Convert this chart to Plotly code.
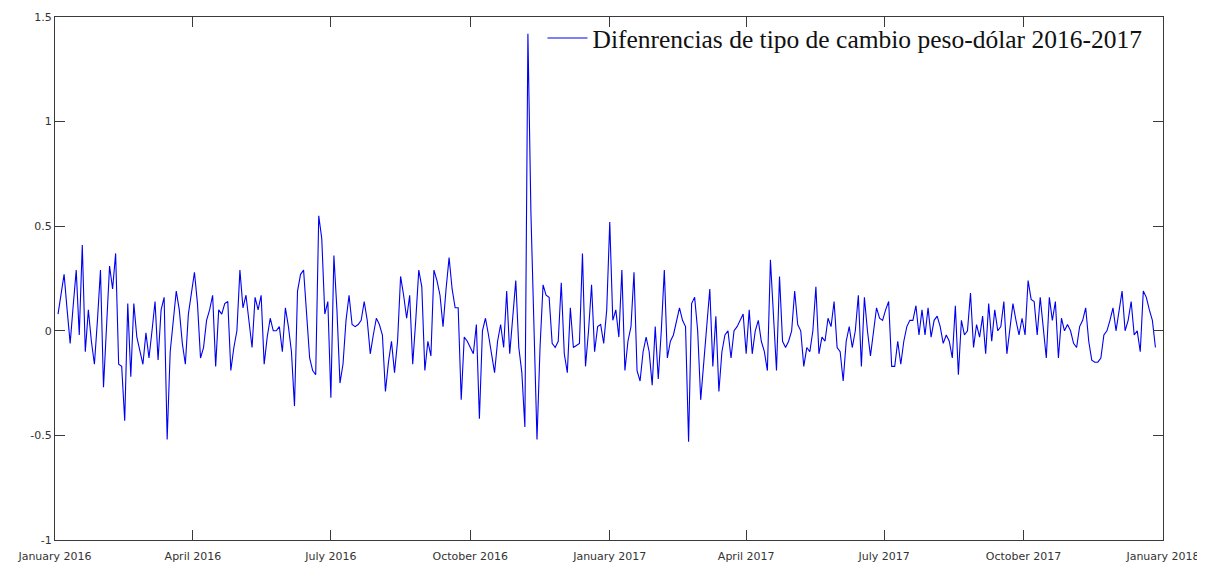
import pandas as pd
import plotly.graph_objects as go

# daily-ish differences of the peso-dollar rate (one value every 2 days from 2016-01-03)
start_date = "2016-01-03"
step = "2D"

diff_2016_a = [
    0.08, 0.18, 0.27, 0.10, -0.06, 0.12, 0.29, -0.02, 0.41, -0.10,
    0.10, -0.05, -0.16, 0.05, 0.29, -0.27, 0.05, 0.31, 0.20, 0.37,
    -0.16, -0.17, -0.43, 0.13, -0.22, 0.13, -0.03, -0.10, -0.16, -0.01,
    -0.13, 0.00, 0.14, -0.14, 0.10, 0.16, -0.52, -0.10, 0.05, 0.19,
    0.10, -0.06, -0.16, 0.08, 0.18, 0.28, 0.13, -0.13, -0.08, 0.05,
    0.10, 0.17, -0.17, 0.10, 0.08, 0.13, 0.14, -0.19, -0.08, 0.00,
    0.29, 0.11, 0.17, 0.05, -0.08, 0.16, 0.10, 0.17, -0.16, -0.03,
    0.06, 0.00, 0.00, 0.02, -0.10, 0.11, 0.02, -0.10, -0.36, 0.19,
    0.27, 0.29, 0.10, -0.13, -0.19, -0.21, 0.55, 0.44, 0.08, 0.14,
    -0.32,
]
diff_2016_b = [
    0.36, 0.10, -0.25, -0.16, 0.05, 0.17, 0.03, 0.02, 0.03,
    0.05, 0.14, 0.05, -0.11, -0.02, 0.06, 0.03, -0.02, -0.29, -0.15,
    -0.05, -0.20, -0.05, 0.26, 0.17, 0.06, 0.17, -0.16, 0.05, 0.29,
    0.21, -0.19, -0.05, -0.12, 0.29, 0.24, 0.17, 0.02, 0.20, 0.35,
    0.20, 0.11, 0.11, -0.33, -0.03, -0.05, -0.08, -0.11, 0.03, -0.42,
    0.00, 0.06, -0.02, -0.10, -0.20, -0.05, 0.03, -0.08, 0.19, -0.11,
    0.05, 0.24, -0.08, -0.20, -0.46, 1.42, 0.56, 0.05, -0.52, -0.08,
    0.22, 0.17, 0.16, -0.06, -0.08, -0.05, 0.23, -0.11, -0.20, 0.11,
    -0.08, -0.07, -0.06, 0.37, -0.17, 0.00, 0.22, -0.10, 0.02, 0.03,
    -0.06, 0.10,
]
diff_2017_a = [
    0.52, 0.05, 0.10, -0.03, 0.29, -0.19, -0.05, 0.02, 0.28,
    -0.19, -0.24, -0.10, -0.03, -0.10, -0.26, 0.02, -0.23, 0.00, 0.29,
    -0.13, -0.05, -0.02, 0.05, 0.11, 0.05, 0.02, -0.53, 0.13, 0.16,
    0.00, -0.33, -0.16, 0.00, 0.20, -0.17, 0.07, -0.29, -0.10, -0.02,
    0.00, -0.13, 0.00, 0.02, 0.05, 0.08, -0.11, 0.10, -0.11, 0.00,
    0.05, -0.05, -0.10, -0.19, 0.34, 0.10, -0.19, 0.26, -0.05, -0.08,
    -0.05, 0.00, 0.19, 0.03, 0.00, -0.17, -0.08, -0.10, 0.00, 0.21,
    -0.11, -0.03, -0.05, 0.06, 0.02, 0.14, -0.08, -0.10, -0.24, -0.05,
    0.02, -0.08, 0.00, 0.17, -0.17, 0.16, 0.00, -0.12, 0.00, 0.11,
    0.06, 0.05, 0.10, 0.14, -0.17,
]
diff_2017_b = [
    -0.17, -0.05, -0.16, -0.05, 0.02, 0.05, 0.05, 0.12, -0.02,
    0.10, -0.02, 0.11, -0.03, 0.05, 0.07, 0.02, -0.06, -0.02, -0.05,
    -0.13, 0.12, -0.21, 0.05, -0.02, 0.00, 0.18, -0.08, 0.03, -0.03,
    0.07, -0.11, 0.13, -0.05, 0.10, 0.00, 0.02, 0.14, -0.11, 0.00,
    0.13, 0.05, -0.02, 0.06, -0.02, 0.24, 0.15, 0.14, -0.02, 0.16,
    0.00, -0.13, 0.16, 0.05, 0.14, -0.13, 0.06, 0.00, 0.03, 0.00,
    -0.06, -0.08, 0.02, 0.05, 0.11, -0.05, -0.14, -0.15, -0.15, -0.13,
    -0.02, 0.00, 0.05, 0.11, 0.00, 0.10, 0.19, 0.00, 0.05, 0.14,
    -0.02, 0.00, -0.10, 0.19, 0.16, 0.10, 0.05, -0.08,
]

tick_dates = ["2016-01-01", "2016-04-01", "2016-07-01", "2016-10-01", "2017-01-01",
              "2017-04-01", "2017-07-01", "2017-10-01", "2018-01-01"]
tick_labels = ["January 2016", "April 2016", "July 2016", "October 2016", "January 2017",
               "April 2017", "July 2017", "October 2017", "January 2018"]
y_ticks = [-1, -0.5, 0, 0.5, 1, 1.5]
y_labels = ["-1", "-0.5", "0", "0.5", "1", "1.5"]

values = diff_2016_a + diff_2016_b + diff_2017_a + diff_2017_b
dates = pd.date_range(start_date, periods=len(values), freq=step)

fig = go.Figure()
fig.add_trace(go.Scatter(
    x=dates, y=values, mode="lines",
    line=dict(color="#0000f0", width=1.1),
    name="Difenrencias de tipo de cambio peso-dólar 2016-2017",
))

axis_style = dict(
    showline=True, linecolor="#3a3a3a", linewidth=1, mirror="ticks",
    ticks="inside", ticklen=10, tickcolor="#3a3a3a", tickwidth=1,
    showgrid=False, zeroline=False, automargin=False,
    tickfont=dict(family="DejaVu Sans, Verdana, sans-serif", size=11, color="#333333"),
)

fig.update_xaxes(range=["2016-01-01", "2018-01-01"], tickvals=tick_dates, ticktext=tick_labels,
                 ticklabelstandoff=6, **axis_style)
fig.update_yaxes(range=[-1, 1.5], tickvals=y_ticks, ticktext=y_labels, **axis_style)

# page body has an 8px margin, so the figure is sized to fit inside the window
fig.update_layout(
    width=1197, height=555,
    margin=dict(l=47, r=42, t=8, b=23),
    paper_bgcolor="white", plot_bgcolor="white",
    showlegend=True,
    legend=dict(
        x=0.986, y=1.002, xanchor="right", yanchor="top",
        bgcolor="rgba(255,255,255,0)", borderwidth=0,
        font=dict(family="Liberation Serif, Times New Roman, serif", size=25.5, color="#111111"),
        itemwidth=40,
    ),
)

fig.write_html("out.html")
